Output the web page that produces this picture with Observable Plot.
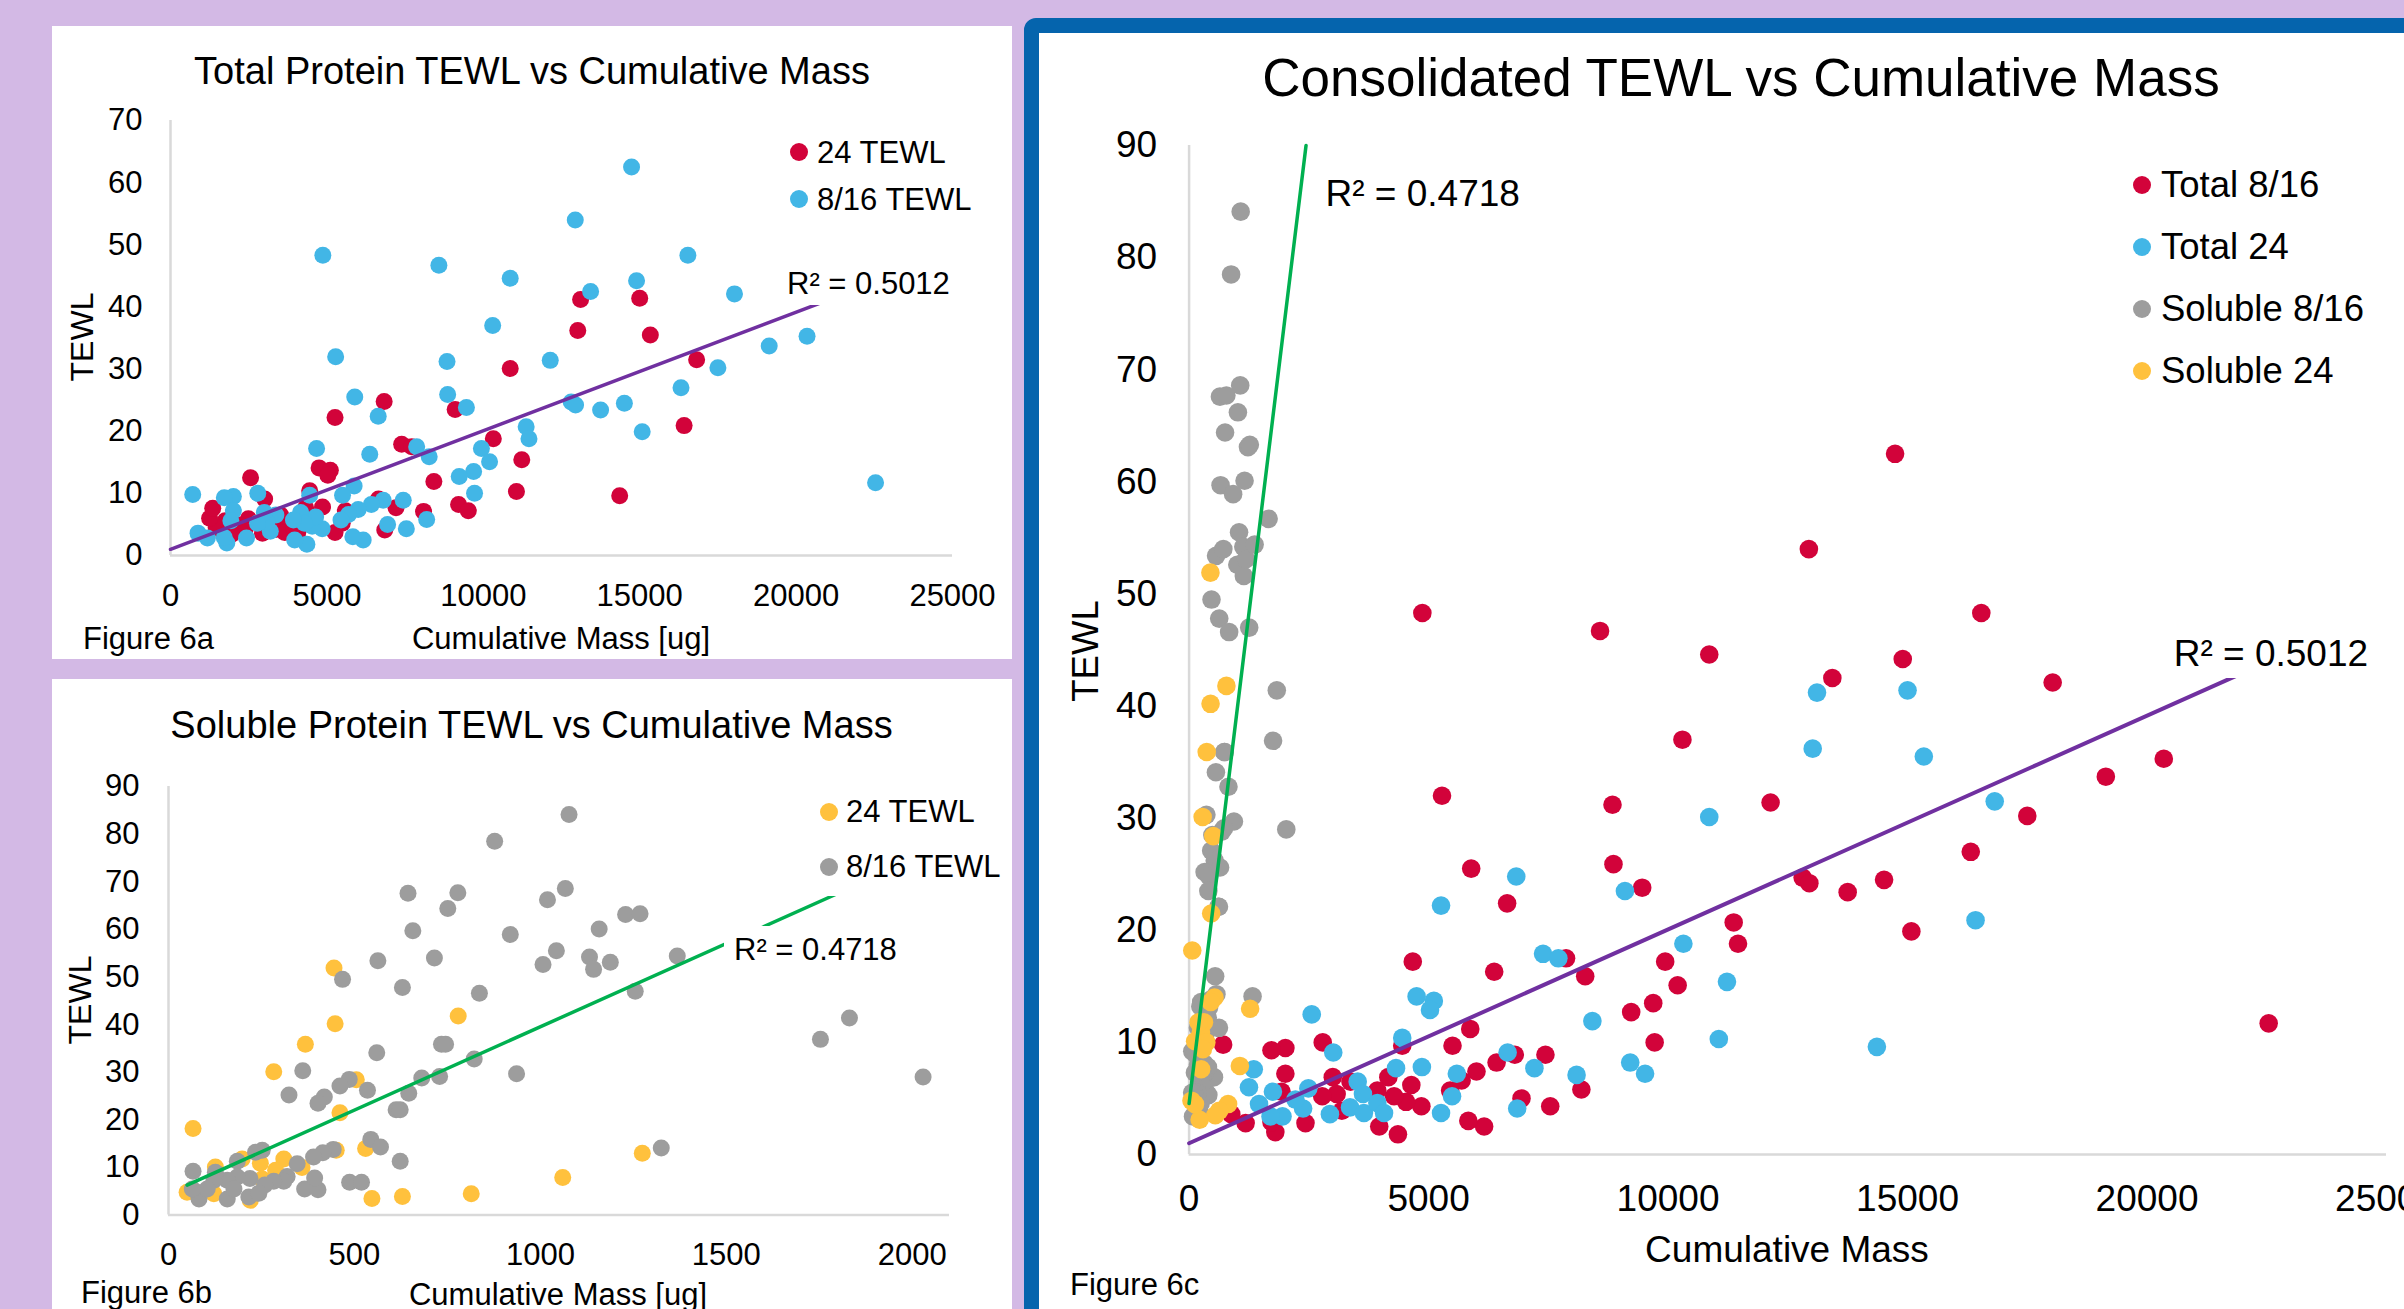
<!DOCTYPE html>
<html><head><meta charset="utf-8">
<script src="https://cdn.jsdelivr.net/npm/d3@7"></script>
<script src="https://cdn.jsdelivr.net/npm/@observablehq/plot@0.6"></script>
<style>
html,body{margin:0;padding:0;width:2404px;height:1309px;overflow:hidden;background:#D3B9E5;font-family:"Liberation Sans",Arial,sans-serif;}
</style></head><body>
<div id="root" style="position:relative;width:2404px;height:1309px;overflow:hidden"></div>
<script>
// ---------- DATA ----------
// Total protein, 8/16 h  [cumulative mass ug, TEWL]
const total816 = [[4870,48.3],[8580,46.7],[10860,44.6],[10300,37.0],[5280,32.0],[8840,31.2],[12140,31.4],[5890,25.5],[8860,25.9],[9460,23.8],[6640,22.4],[12810,24.7],[12950,24.2],[11370,20.7],[11460,18.8],[4670,17.2],[6370,16.3],[7870,17.5],[8270,15.9],[9940,17.2],[10200,15.1],[9690,13.5],[9230,12.7],[9720,10.0],[5870,11.2],[5500,9.7],[8190,5.8],[7540,4.3],[6800,8.9],[6940,5.0],[7440,8.9],[6420,8.2],[6000,7.4],[5690,6.6],[5450,5.7],[6160,2.5],[5830,3.0],[4360,1.8],[4850,4.3],[4530,4.7],[4640,6.2],[4450,9.7],[4160,6.9],[4280,5.2],[3930,5.7],[3970,2.5],[3190,3.9],[3370,6.5],[3080,5.4],[3000,6.9],[2790,10.0],[2780,5.2],[2010,9.5],[1720,9.3],[2010,7.2],[1930,5.6],[2430,2.8],[1800,2.0],[1180,2.8],[880,3.6],[710,9.8],[1720,2.9],[16540,48.3],[14900,44.2],[13430,42.5],[18030,42.1],[20350,35.3],[19140,33.7],[17500,30.2],[16320,27.0],[13750,23.4],[14510,24.5],[15080,19.9],[22540,11.7],[14740,62.5],[12940,54.0]];
// Total protein, 24 h
const total24 = [[6830,24.8],[5260,22.2],[9100,23.5],[10860,30.1],[7390,17.9],[7710,17.5],[10320,18.8],[11230,15.4],[4750,14.1],[5110,13.7],[5030,12.9],[2560,12.5],[8420,11.9],[11060,10.3],[4450,10.4],[3010,9.1],[6650,9.1],[4320,7.7],[4860,7.8],[5590,7.2],[7210,7.7],[8090,7.1],[9210,8.2],[9520,7.2],[5490,5.2],[5260,3.7],[6850,4.1],[3520,6.5],[3630,5.4],[3360,4.2],[3650,3.7],[3930,4.6],[4070,3.7],[2940,3.6],[2490,5.9],[2380,4.1],[2220,4.9],[1950,3.4],[1700,3.4],[1750,5.6],[1460,4.5],[1250,6.0],[1350,7.6],[13110,41.2],[15000,41.4],[13020,36.2],[15340,35.5],[16820,31.5],[16420,20.9],[14360,9.6]];
// Soluble protein, 8/16 h
const soluble816 = [[1077,84.1],[877,78.5],[644,67.6],[778,67.7],[751,64.4],[1067,68.6],[1019,66.2],[657,59.7],[919,58.9],[1229,63.1],[1268,63.3],[1158,60.1],[563,53.4],[715,54.0],[1043,55.5],[1007,52.6],[1132,54.2],[1143,51.6],[1188,53.1],[1368,54.4],[1660,56.7],[468,49.5],[629,47.8],[836,46.6],[1255,47.0],[1831,41.4],[1753,36.9],[2029,29.0],[560,34.1],[734,35.9],[745,35.9],[822,32.8],[361,30.3],[936,29.7],[681,28.8],[729,29.1],[486,28.5],[461,27.1],[535,26.2],[324,25.2],[419,24.8],[402,23.5],[646,25.6],[612,22.1],[623,22.1],[1325,14.1],[544,15.9],[570,14.3],[623,11.3],[487,6.9],[519,6.9],[366,5.5],[402,5.3],[393,7.8],[443,13.8],[415,13.1],[390,12.2],[346,10.8],[319,8.1],[310,7.1],[283,7.1],[259,6.3],[252,13.6],[234,13.2],[185,11.3],[219,7.7],[185,8.0],[158,7.3],[66,9.2],[126,9.0],[122,7.3],[77,4.8],[82,3.4],[158,3.4],[216,3.8],[243,4.6],[176,5.5],[104,5.5],[64,5.5]];
// Soluble protein, 24 h
const soluble24 = [[445,51.9],[448,40.2],[779,41.8],[368,35.9],[283,30.1],[505,28.4],[461,21.5],[66,18.2],[530,14.0],[451,13.6],[1274,13.0],[1060,7.9],[814,4.5],[629,3.9],[547,3.5],[310,11.8],[247,10.9],[198,11.8],[126,10.1],[359,10.0],[288,9.4],[252,7.6],[50,4.8],[220,3.1],[122,4.5]];

// Linear trendlines and their R² labels
const totalTrend = {intercept: 1.0, slope: 0.001907, r2: "R² = 0.5012"};
const solubleTrend = {intercept: 4.55, slope: 0.0350, r2: "R² = 0.4718"};

// Axis ticks
const totalMassTicks = [0, 5000, 10000, 15000, 20000, 25000];
const solubleMassTicks = [0, 500, 1000, 1500, 2000];
const tewlTicks70 = [0, 10, 20, 30, 40, 50, 60, 70];
const tewlTicks90 = [0, 10, 20, 30, 40, 50, 60, 70, 80, 90];

// Text
const titles = ["Total Protein TEWL vs Cumulative Mass", "Soluble Protein TEWL vs Cumulative Mass", "Consolidated TEWL vs Cumulative Mass"];
const legendA = ["24 TEWL", "8/16 TEWL"];
const legendB = ["24 TEWL", "8/16 TEWL"];
const legendC = ["Total 8/16", "Total 24", "Soluble 8/16", "Soluble 24"];

const C = {red: "#D2033A", blue: "#42B6E6", grey: "#9D9D9D", yellow: "#FFC13D", purple: "#7030A0", green: "#00B050", axis: "#D9D9D9"};

// ---------- helpers ----------
const root = document.getElementById("root");
const FONT = "'Liberation Sans', Arial, sans-serif";
function box(l, t, w, h, css) {
  const d = document.createElement("div");
  d.style.cssText = `position:absolute;left:${l}px;top:${t}px;width:${w}px;height:${h}px;${css || ""}`;
  root.appendChild(d); return d;
}
function text(str, x, baseline, fs, o = {}) {
  const d = document.createElement("div");
  d.textContent = str;
  const pt = o.padT || 0, pl = o.padL || 0;
  d.style.cssText = `position:absolute;top:${baseline - 0.8465 * fs - pt}px;font-size:${fs}px;line-height:1;white-space:nowrap;color:#000;font-family:${FONT};` + (o.bg ? `background:#fff;padding:${pt}px ${pl}px;` : "");
  if (o.anchor === "middle") { d.style.left = x + "px"; d.style.transform = "translateX(-50%)"; }
  else d.style.left = (x - pl) + "px";
  root.appendChild(d); return d;
}
function vtext(str, cx, cy, fs) {
  const d = document.createElement("div");
  d.textContent = str;
  d.style.cssText = `position:absolute;left:${cx}px;top:${cy}px;font-size:${fs}px;line-height:1;white-space:nowrap;color:#000;font-family:${FONT};transform:translate(-50%,-50%) rotate(-90deg);`;
  root.appendChild(d); return d;
}
function legendDot(cx, cy, r, color) {
  box(cx - r, cy - r, 2 * r, 2 * r, `border-radius:50%;background:${color}`);
}
function trendRows(t, x0, x1) {
  return [x0, x1].map(x => ({x, y: t.intercept + t.slope * x}));
}
function rows(arr) { return arr.map(([x, y]) => ({x, y})); }

function makePlot(o) {
  const svg = Plot.plot({
    width: o.width, height: o.height,
    marginLeft: o.ml, marginRight: o.mr, marginTop: o.mt, marginBottom: o.mb,
    style: {fontSize: o.fs + "px", fontFamily: FONT, background: "transparent", overflow: "visible", maxWidth: "none", color: "#000"},
    x: {domain: o.xDomain, ticks: o.xTicks, tickSize: 0, tickPadding: o.padX, tickFormat: d => String(d), label: null},
    y: {domain: o.yDomain, ticks: o.yTicks, tickSize: 0, tickPadding: o.padY, tickFormat: d => String(d), label: null},
    marks: [
      Plot.ruleX([o.xDomain[0]], {stroke: C.axis, strokeWidth: 2.5}),
      Plot.ruleY([o.yDomain[0]], {stroke: C.axis, strokeWidth: 2.5}),
      ...o.marks
    ]
  });
  svg.style.position = "absolute";
  svg.style.left = o.left + "px";
  svg.style.top = o.top + "px";
  root.appendChild(svg);
  return svg;
}
const dots = (arr, fill, r) => Plot.dot(rows(arr), {x: "x", y: "y", r, fill, stroke: "none"});

// ---------- Panel backgrounds ----------
box(52, 26, 960, 633, "background:#fff");
box(52, 679, 960, 640, "background:#fff");
box(1024, 18, 1420, 1287, "background:#fff;border:15px solid #0564AD;border-radius:12px;");

// ---------- Panel A ----------
const totMax = d3.max(total816.concat(total24), d => d[0]);
makePlot({
  left: 52, top: 26, width: 960, height: 633, ml: 118, mr: 60, mt: 94, mb: 104, fs: 31,
  xDomain: [0, 25000], xTicks: totalMassTicks, yDomain: [0, 70], yTicks: tewlTicks70, padX: 28, padY: 28,
  marks: [
    dots(total24, C.red, 8.5),
    dots(total816, C.blue, 8.5),
    Plot.line(trendRows(totalTrend, 0, totMax), {x: "x", y: "y", stroke: C.purple, strokeWidth: 3.5})
  ]
});
text(titles[0], 532, 84, 38, {anchor: "middle"});
vtext("TEWL", 82, 337, 32);
text("Cumulative Mass [ug]", 561, 649, 31, {anchor: "middle"});
text("Figure 6a", 83, 649, 31);
legendDot(799, 151.5, 9, C.red); text(legendA[0], 817, 163, 31);
legendDot(799, 199, 9, C.blue); text(legendA[1], 817, 210.5, 31);
text(totalTrend.r2, 787, 294.6, 31, {bg: true, padT: 6, padL: 8});

// ---------- Panel B ----------
const solMin = d3.min(soluble816.concat(soluble24), d => d[0]);
const solMax = d3.max(soluble816.concat(soluble24), d => d[0]);
makePlot({
  left: 52, top: 679, width: 960, height: 630, ml: 116, mr: 63, mt: 107, mb: 94.4, fs: 31,
  xDomain: [0, 2100], xTicks: solubleMassTicks, yDomain: [0, 90], yTicks: tewlTicks90, padX: 28, padY: 29,
  marks: [
    dots(soluble24, C.yellow, 8.5),
    dots(soluble816, C.grey, 8.5),
    Plot.line(trendRows(solubleTrend, solMin, solMax), {x: "x", y: "y", stroke: C.green, strokeWidth: 3.5})
  ]
});
text(titles[1], 531.5, 738.5, 38, {anchor: "middle"});
vtext("TEWL", 80, 1000, 32);
text("Cumulative Mass [ug]", 558, 1305.5, 31, {anchor: "middle"});
text("Figure 6b", 81, 1303, 31);
box(815, 782, 197, 114, "background:#fff");
legendDot(829, 811.7, 9, C.yellow); text(legendB[0], 846, 822.7, 31);
legendDot(829, 866.7, 9, C.grey); text(legendB[1], 846, 877.7, 31);
text(solubleTrend.r2, 734, 960, 31, {bg: true, padT: 8, padL: 10});

// ---------- Panel C ----------
const yTopC = 90;
makePlot({
  left: 1039, top: 34, width: 1365, height: 1271, ml: 149.6, mr: 18, mt: 111, mb: 151, fs: 37,
  xDomain: [0, 25000], xTicks: totalMassTicks, yDomain: [0, 90], yTicks: tewlTicks90, padX: 30, padY: 32,
  marks: [
    dots(total816, C.red, 9.3),
    dots(total24, C.blue, 9.3),
    dots(soluble816, C.grey, 9.3),
    dots(soluble24, C.yellow, 9.3),
    Plot.line(trendRows(totalTrend, 0, totMax), {x: "x", y: "y", stroke: C.purple, strokeWidth: 4}),
    Plot.line(trendRows(solubleTrend, 0, (yTopC - solubleTrend.intercept) / solubleTrend.slope), {x: "x", y: "y", stroke: C.green, strokeWidth: 3.5})
  ]
});
text(titles[2], 1741, 96, 53, {anchor: "middle"});
vtext("TEWL", 1086, 651, 36.5);
text("Cumulative Mass", 1787, 1262.5, 37, {anchor: "middle"});
text("Figure 6c", 1070, 1295, 31);
const legCY = [185, 246.7, 309, 371];
const legCC = [C.red, C.blue, C.grey, C.yellow];
legendC.forEach((s, i) => { legendDot(2141.6, legCY[i], 9, legCC[i]); text(s, 2161, legCY[i] + 13, 36.5); });
text(totalTrend.r2, 2173.7, 666, 37, {bg: true, padT: 6, padL: 8});
text(solubleTrend.r2, 1325.5, 206, 37, {bg: true, padT: 6, padL: 8});
</script></body></html>
